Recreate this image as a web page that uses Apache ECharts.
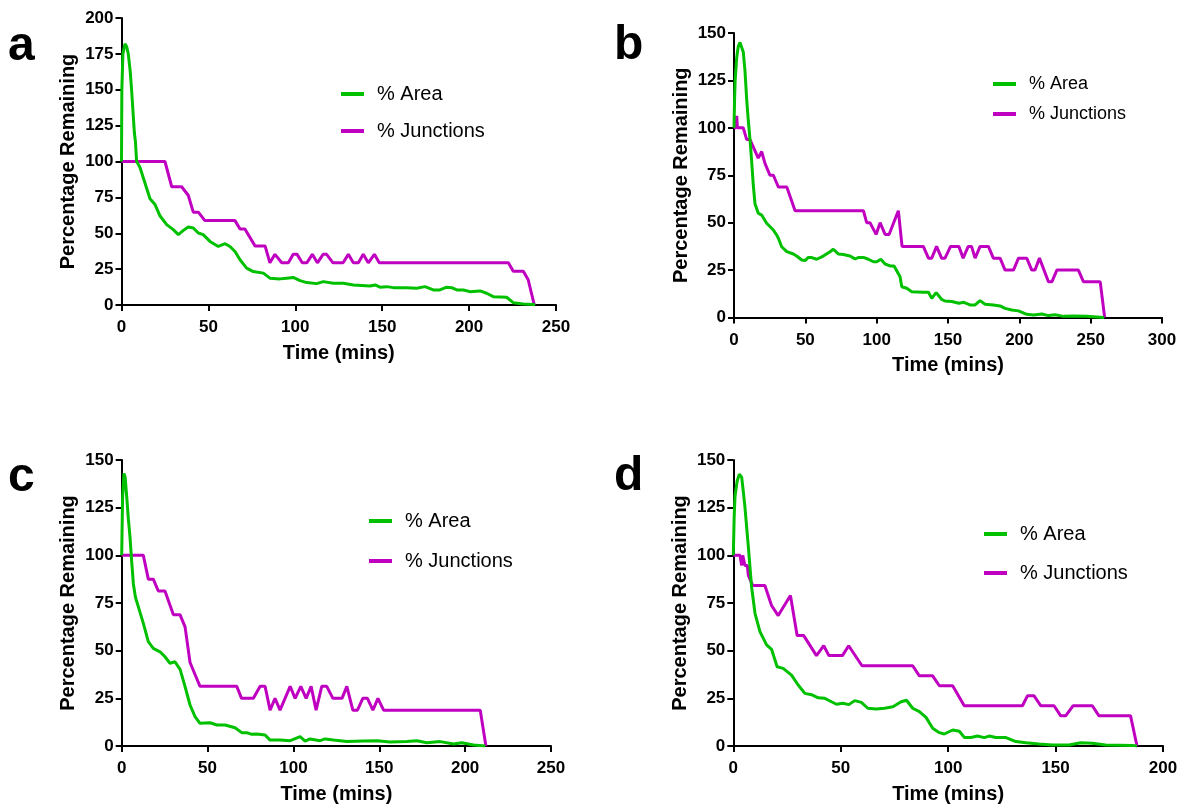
<!DOCTYPE html>
<html>
<head>
<meta charset="utf-8">
<script src="https://cdn.jsdelivr.net/npm/echarts@6/dist/echarts.min.js"></script>
<style>
html,body{margin:0;padding:0;background:#fff;}
#chart{width:1186px;height:807px;}
</style>
</head>
<body>
<div id="chart"></div>
<script>
// ---------- DATA (time in mins, value in %) ----------
const panelLetters = ['a', 'b', 'c', 'd'];
const xMaxes = [250, 300, 250, 200];
const yMaxes = [200, 150, 150, 150];
const seriesNames = ['% Area', '% Junctions'];

const areaA = [[0,100],[0.2,150],[0.8,175],[2,182],[3,180],[3.9,175],[5,163],[5.8,150],[6.6,135],[7.4,120],[8,114],[8.7,100],[10.6,96],[13.5,85],[16.4,74],[19.3,70],[22.2,62],[26,56],[29.8,52.5],[32.7,49],[35.6,52],[38.4,54.4],[41.3,53.7],[44.2,50.2],[47,49],[50.9,44.3],[55.7,40.8],[59.6,42.7],[62.4,40.8],[65.3,37.3],[68.2,31.5],[72,25.7],[75.8,23.3],[81.6,22.2],[85.4,18.7],[91.2,18.2],[95,18.7],[98.8,19.2],[102.7,17],[106.6,15.6],[112.3,14.9],[116.1,16.3],[121.9,15.2],[127.6,15.2],[133.4,14],[143,13.3],[145.9,14],[148.7,12.4],[152.6,12.8],[156.4,12.1],[164.1,12.1],[169.9,11.7],[174.6,12.8],[179.4,10.5],[183.2,10.5],[187.1,12.4],[190,12.1],[192.9,10.5],[196.7,10.5],[200.5,9.3],[206.3,9.8],[210.1,8.2],[213.9,5.8],[221.6,5.4],[225.4,1.6],[231.2,0.7],[237,0.3],[238,0]];
const juncA = [[0,100],[25,100],[28.9,82.4],[34.6,82.4],[38.4,76.5],[41.3,64.7],[44.2,64.7],[48,58.8],[65.3,58.8],[68.2,52.9],[71,52.9],[76.8,41.2],[82.6,41.2],[85.4,29.4],[88.3,35.3],[92.2,29.4],[96,29.4],[98.8,35.3],[101,35.3],[104,29.4],[106.6,29.4],[109.8,35.3],[112.7,29.4],[116,35.3],[118,35.3],[121.7,29.4],[127.5,29.4],[130.5,35.3],[133.4,29.4],[136.3,29.4],[139.1,35.3],[142,29.4],[145.5,35.3],[148.3,29.4],[222.6,29.4],[225.4,23.5],[231.2,23.5],[234,17.6],[237.5,0]];

const areaB = [[0,100],[0.4,115],[0.8,125],[1.9,137],[3,143],[4.2,145],[5.3,144],[6.5,140],[7.7,130],[8.9,115],[10,104],[11.2,94],[12.4,82],[13.5,70],[14.7,60],[17,55],[19.4,54],[22.9,49.7],[27.6,46.1],[29.9,43.5],[31.1,41.8],[33.4,37.3],[37,34.7],[41.6,33.5],[43.9,32.4],[47.5,30.3],[49.8,30],[52.1,31.7],[54.5,31.6],[58,30.7],[62.6,32.4],[67.3,34.7],[69.6,36],[73.1,33.5],[76.6,33.2],[81.3,32.4],[84.8,30.9],[87.2,31.6],[90.7,31.7],[94.2,30.7],[97.7,29.4],[100.1,29.4],[102.9,30.7],[105.9,28.2],[109.4,27.2],[112.2,27.2],[116.4,21.5],[117.6,16.2],[121.1,15.4],[124.6,13.6],[132.7,13.3],[136.3,13.3],[138.6,10.1],[141.7,13.1],[145.5,9.6],[147.9,8.7],[152.7,8.4],[157.6,7.5],[161.1,8],[165.5,6.6],[169,6.6],[172.5,8.9],[176,7],[181.8,6.6],[186.5,6.1],[190,4.8],[194.7,4],[199.4,3.5],[205.2,1.7],[209.9,1.3],[215.8,1.8],[220.4,1],[225.1,1.4],[230.9,0.6],[237.9,0.8],[247.2,0.6],[254.3,0.3],[259.5,0]];
const juncB = [[0,100],[1.5,100],[1.9,106.3],[2.4,100],[6.5,100],[8.9,93.8],[11.2,93.8],[17,84],[19.4,87.5],[21.7,81.3],[25.2,75],[27.6,75],[31.1,68.8],[37,68.8],[42.8,56.3],[90.7,56.3],[93,50],[95.3,50],[99.6,43.8],[102.4,50],[105.9,43.8],[108.7,43.8],[115.2,56.3],[117.8,37.5],[132.7,37.5],[136.3,31.3],[138.6,31.3],[142,37.5],[145.5,31.3],[147.9,31.3],[151.8,37.5],[157.6,37.5],[160.6,31.3],[164.2,37.5],[166.5,37.5],[169,31.3],[172.5,37.5],[178.3,37.5],[181.8,31.3],[186.5,31.3],[190,25],[195.9,25],[199.4,31.3],[205.2,31.3],[208.7,25],[211,25],[214.1,31.3],[220.4,18.8],[222.8,18.8],[226.3,25],[241.4,25],[245,18.8],[256.7,18.8],[259.8,0]];

const areaC = [[0,100],[0.5,130],[1.3,143],[2,141],[2.9,131],[3.8,120],[4.8,110],[5.8,97],[6.8,85],[8,78],[9.7,73],[12.6,64.3],[15.5,54.7],[18.4,51.2],[22.3,49.4],[25.2,46.8],[28.1,43.4],[31,44.2],[34,40.2],[36.9,31.1],[39.8,21.5],[42.7,15.4],[45.6,11.9],[51.5,12.2],[55.4,11],[60.2,11],[66,9.6],[69.9,7],[72.8,7],[75.8,6.1],[78.7,6.3],[83.5,5.8],[86.4,3.1],[92.2,3.1],[98.1,2.8],[100,3.5],[103.9,4.9],[106.8,2.6],[109.7,3.7],[115.5,2.8],[118.5,3.7],[123.3,3.1],[131.1,2.3],[140.8,2.6],[148.6,2.8],[156.3,2.1],[166,2.3],[171.9,2.8],[177.7,1.7],[185.5,2.3],[193.3,1],[198.1,1.7],[204.9,0.5],[211.7,0]];
const juncC = [[0,100],[12.6,100],[15.5,87.5],[18.4,87.5],[21.3,81.3],[25.2,81.3],[30.1,68.8],[34,68.8],[36.9,62.5],[39.8,43.8],[42.7,37.5],[45.6,31.3],[67,31.3],[69.8,25],[76.7,25],[80.6,31.3],[83.5,31.3],[86.4,18.8],[89.3,25],[92.2,18.8],[98.1,31.3],[101,25],[104.3,31.3],[107.4,25],[110.3,31.3],[113.2,18.8],[116.5,31.3],[119.4,31.3],[123,25],[128.3,25],[131.1,31.3],[134.6,18.8],[137.3,18.8],[140.4,25],[143.1,25],[146.3,18.8],[149.2,25],[152.5,18.8],[208.8,18.8],[212.1,0]];

const areaD = [[0,100],[0.4,120],[0.8,131],[1.8,139],[2.8,142.5],[3.9,141],[4.6,134],[5.4,125.5],[7,104.5],[8.5,83.5],[10.1,69.6],[12.4,60],[15.5,53],[17.8,50.7],[20.4,41.6],[23.2,40.7],[27.1,37.2],[30.2,32],[33.3,27.6],[36.4,26.9],[39.5,25.3],[42.6,25],[45.7,23.2],[48,21.9],[51,22.4],[53.8,21.7],[56.5,23.8],[59.6,22.9],[62.6,19.8],[66.5,19.4],[70.4,19.8],[74.3,20.6],[78.1,23.2],[80.6,24],[83.5,19.8],[86.6,18],[89.7,15],[92.8,9.3],[95.9,7],[98.2,6.3],[102.1,8.4],[105.2,7.7],[107.5,4.5],[110.6,4.5],[113.7,5.2],[116.8,4.4],[119.1,5.2],[122.2,4.5],[126.9,4.4],[131.5,2.3],[136.2,1.7],[142.3,1],[148.5,0.5],[156.2,0.5],[161.7,1.7],[167.1,1.4],[173.3,0.5],[185.6,0.3],[187.9,0]];
const juncD = [[0,100],[3.1,100],[3.9,94.7],[4.4,100],[5,100],[5.4,94.7],[6.5,94.7],[7,89.5],[9,84.2],[14.7,84.2],[17.8,73.7],[20.9,68.4],[26.6,78.9],[29.7,57.9],[32.8,57.9],[38.7,47.4],[42.1,52.6],[44.5,47.4],[50.8,47.4],[53.7,52.6],[59.9,42.1],[83.5,42.1],[86.6,36.8],[92.8,36.8],[95.9,31.6],[102.1,31.6],[107.5,21.1],[134.6,21.1],[136.9,26.3],[140,26.3],[143.1,21.1],[149.3,21.1],[152.4,15.8],[154.7,15.8],[158.1,21.1],[167.1,21.1],[170.2,15.8],[184.9,15.8],[187.9,0]];

const areaSets = [areaA, areaB, areaC, areaD];
const juncSets = [juncA, juncB, juncC, juncD];

// ---------- LAYOUT / STYLE ----------
const FONT = 'Liberation Sans';
const GREEN = '#00c000';
const MAGENTA = '#c000c0';
const grids = [
  {left: 121.5, top: 18, width: 434.5, height: 287},
  {left: 734, top: 33, width: 428, height: 284.5},
  {left: 121.7, top: 460, width: 429.3, height: 286},
  {left: 733.3, top: 460, width: 429.7, height: 286}
];
const legendPos = [
  {left: 341, top: 84, gap: 17, size: 20},
  {left: 993, top: 75, gap: 12, size: 18},
  {left: 369, top: 511, gap: 20, size: 20},
  {left: 984, top: 524, gap: 19, size: 20}
];
const letterPos = [[8, 47], [614, 46], [8, 478], [614, 477]];

const chart = echarts.init(document.getElementById('chart'), null, {renderer: 'canvas'});

const axisCommon = {
  type: 'value',
  nameLocation: 'middle',
  nameTextStyle: {fontSize: 20, fontWeight: 'bold', fontFamily: FONT, color: '#000'},
  axisLine: {show: true, onZero: false, lineStyle: {color: '#000', width: 2}},
  axisTick: {show: true, length: 6, lineStyle: {color: '#000', width: 2}},
  splitLine: {show: false},
  axisLabel: {fontSize: 17, fontWeight: 'bold', fontFamily: FONT, color: '#000'}
};

const xAxes = [], yAxes = [], series = [], legends = [], graphics = [];
for (let i = 0; i < 4; i++) {
  xAxes.push(Object.assign({}, axisCommon, {
    gridIndex: i, min: 0, max: xMaxes[i], interval: 50,
    name: 'Time (mins)', nameGap: 38,
    axisLabel: Object.assign({}, axisCommon.axisLabel, {margin: 14})
  }));
  yAxes.push(Object.assign({}, axisCommon, {
    gridIndex: i, min: 0, max: yMaxes[i], interval: 25,
    name: 'Percentage Remaining', nameGap: 43,
    axisLabel: Object.assign({}, axisCommon.axisLabel, {margin: 8})
  }));
  series.push({
    type: 'line', name: seriesNames[1], xAxisIndex: i, yAxisIndex: i,
    data: juncSets[i], showSymbol: false, symbol: 'none',
    lineStyle: {color: MAGENTA, width: 3}, itemStyle: {color: MAGENTA}
  });
  series.push({
    type: 'line', name: seriesNames[0], xAxisIndex: i, yAxisIndex: i,
    data: areaSets[i], showSymbol: false, symbol: 'none',
    lineStyle: {color: GREEN, width: 3}, itemStyle: {color: GREEN}
  });
  const lp = legendPos[i];
  legends.push({
    data: seriesNames, orient: 'vertical', left: lp.left, top: lp.top,
    itemGap: lp.gap, itemWidth: 23, itemHeight: 4, icon: 'rect',
    padding: 0, selectedMode: false,
    textStyle: {fontSize: lp.size, lineHeight: lp.size, fontFamily: FONT, color: '#000', padding: [0, 0, 0, 8]}
  });
  graphics.push({
    type: 'text', left: letterPos[i][0], top: letterPos[i][1] - 24,
    style: {text: panelLetters[i], font: 'bold 48px "Liberation Sans"', fill: '#000'}
  });
}

chart.setOption({
  animation: false,
  backgroundColor: '#fff',
  grid: grids,
  xAxis: xAxes,
  yAxis: yAxes,
  legend: legends,
  series: series,
  graphic: graphics
});
</script>
</body>
</html>
